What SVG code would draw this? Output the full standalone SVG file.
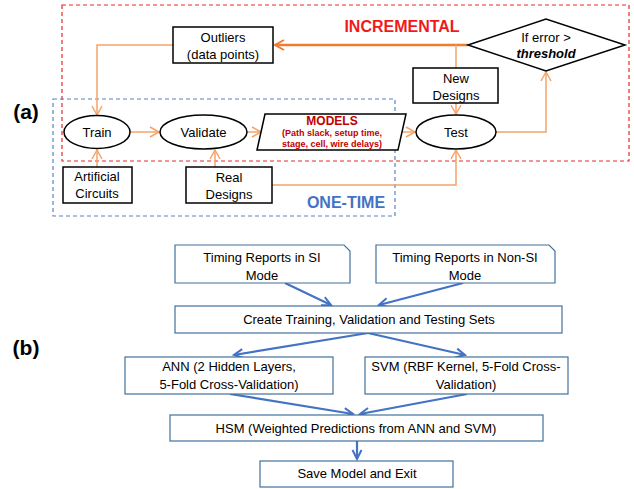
<svg xmlns="http://www.w3.org/2000/svg" width="634" height="489" viewBox="0 0 634 489">
<style>
text{font-family:"Liberation Sans",Arial,sans-serif;fill:#000;text-anchor:middle}
.n{fill:#fff;stroke:#000;stroke-width:1.5}
.t{font-size:13px}
.o{fill:none;stroke:#F4A46A;stroke-width:1.5}
.ot{fill:none;stroke:#ED7D31;stroke-width:2.5}
.bb{fill:#fff;stroke:#41719C;stroke-width:1.2}
.bt{font-size:13px}
.ba{fill:none;stroke:#4472C4;stroke-width:2.2}
.lbl{font-size:21px;font-weight:bold}
</style>
<defs>
<marker id="ao" markerUnits="userSpaceOnUse" markerWidth="14" markerHeight="14" refX="10" refY="6" orient="auto">
<path d="M1,1 L10,6 L1,11" fill="none" stroke="#F4A46A" stroke-width="1.5"/>
</marker>
<marker id="aot" markerUnits="userSpaceOnUse" markerWidth="14" markerHeight="14" refX="10" refY="6" orient="auto">
<path d="M1,1 L10,6 L1,11" fill="none" stroke="#ED7D31" stroke-width="2"/>
</marker>
<marker id="ab" markerUnits="userSpaceOnUse" markerWidth="14" markerHeight="14" refX="10" refY="6" orient="auto">
<path d="M1,1.5 L10,6 L1,10.5" fill="none" stroke="#4472C4" stroke-width="2"/>
</marker>
</defs>

<text class="lbl" x="26" y="119">(a)</text>
<text class="lbl" x="26" y="355">(b)</text>

<!-- regions -->
<rect x="62" y="5" width="567" height="156" fill="none" stroke="#E8282A" stroke-width="1.2" stroke-dasharray="4,3"/>
<rect x="53" y="99" width="342" height="117" fill="none" stroke="#5B84C0" stroke-width="1.2" stroke-dasharray="4,3"/>
<text x="402" y="32" style="font-size:16px;font-weight:bold;fill:#F01A1A">INCREMENTAL</text>
<text x="346" y="208" style="font-size:16px;font-weight:bold;fill:#4472C4">ONE-TIME</text>

<g id="connectors-a">
<path class="ot" d="M468,45 L275,45" marker-end="url(#aot)"/>
<path class="o" d="M173,45 L97,45 L97,115" marker-end="url(#ao)"/>
<path class="o" d="M456,45 L456,68"/>
<path class="o" d="M456,103 L456,114" marker-end="url(#ao)"/>
<path class="o" d="M496,132 L546,132 L546,72" marker-end="url(#ao)"/>
<path class="o" d="M272,185 L456,185 L456,150" marker-end="url(#ao)"/>
<path class="o" d="M130,132 L159,132" marker-end="url(#ao)"/>
<path class="o" d="M247,132 L261,132" marker-end="url(#ao)"/>
<path class="o" d="M401,132 L415,132" marker-end="url(#ao)"/>
<path class="o" d="M97,167 L97,150" marker-end="url(#ao)"/>
<path class="o" d="M215,167 L215,150" marker-end="url(#ao)"/>
</g>

<g id="outliers"><rect class="n" x="173" y="27" width="100" height="36"/><text class="t" x="223" y="42">Outliers</text><text class="t" x="223" y="59">(data points)</text></g>
<g id="decision"><polygon class="n" points="468,45 546,19 625,45 546,71"/><text class="t" x="546" y="42">If error &gt;</text><text class="t" x="546" y="58" style="font-weight:bold;font-style:italic">threshold</text></g>
<g id="new-designs"><rect class="n" x="413" y="68" width="85" height="35"/><text class="t" x="456" y="83">New</text><text class="t" x="456" y="100">Designs</text></g>
<g id="train"><ellipse class="n" cx="97" cy="132" rx="33" ry="16.5"/><text class="t" x="97" y="137">Train</text></g>
<g id="validate"><ellipse class="n" cx="203.5" cy="132" rx="43.5" ry="17"/><text class="t" x="203.5" y="137">Validate</text></g>
<g id="models"><polygon class="n" points="265,114 406,114 398,150 257,150"/>
<text x="332" y="125" style="font-size:12px;font-weight:bold;fill:#C00000">MODELS</text>
<text x="332" y="136" style="font-size:9px;font-weight:bold;fill:#C00000">(Path slack, setup time,</text>
<text x="332" y="147" style="font-size:9px;font-weight:bold;fill:#C00000">stage, cell, wire delays)</text></g>
<g id="test"><ellipse class="n" cx="456" cy="132" rx="40" ry="17"/><text class="t" x="456" y="137">Test</text></g>
<g id="artificial"><rect class="n" x="63" y="167" width="69" height="36"/><text class="t" x="97" y="181">Artificial</text><text class="t" x="97" y="198">Circuits</text></g>
<g id="real-designs"><rect class="n" x="186" y="167" width="86" height="36"/><text class="t" x="229" y="182">Real</text><text class="t" x="229" y="199">Designs</text></g>

<g id="connectors-b">
<path class="ba" d="M285,283 L331,305" marker-end="url(#ab)"/>
<path class="ba" d="M463,283 L379,305" marker-end="url(#ab)"/>
<path class="ba" d="M368,333 L234,355" marker-end="url(#ab)"/>
<path class="ba" d="M368,333 L465,355" marker-end="url(#ab)"/>
<path class="ba" d="M230,394 L353,414" marker-end="url(#ab)"/>
<path class="ba" d="M467,394 L360,414" marker-end="url(#ab)"/>
<path class="ba" d="M357,441 L357,459" marker-end="url(#ab)"/>
</g>

<g id="si"><path class="bb" d="M175,245 L344,245 L350,251 L350,283 L175,283 Z"/><text class="bt" x="262" y="262">Timing Reports in SI</text><text class="bt" x="262" y="280">Mode</text></g>
<g id="nonsi"><path class="bb" d="M376,245 L549,245 L555,251 L555,283 L376,283 Z"/><text class="bt" x="465" y="262">Timing Reports in Non-SI</text><text class="bt" x="465" y="280">Mode</text></g>
<g id="create"><rect class="bb" x="175" y="306" width="387" height="27"/><text class="bt" x="369" y="324">Create Training, Validation and Testing Sets</text></g>
<g id="ann"><rect class="bb" x="125" y="357" width="208" height="37"/><text class="bt" x="229" y="371">ANN (2 Hidden Layers,</text><text class="bt" x="229" y="389">5-Fold Cross-Validation)</text></g>
<g id="svm"><rect class="bb" x="365" y="357" width="203" height="37"/><text class="bt" x="466" y="371">SVM (RBF Kernel, 5-Fold Cross-</text><text class="bt" x="466" y="389">Validation)</text></g>
<g id="hsm"><rect class="bb" x="170" y="415" width="373" height="26"/><text class="bt" x="356" y="433">HSM (Weighted Predictions from ANN and SVM)</text></g>
<g id="save"><rect class="bb" x="260" y="461" width="193" height="26"/><text class="bt" x="357" y="478">Save Model and Exit</text></g>
</svg>
